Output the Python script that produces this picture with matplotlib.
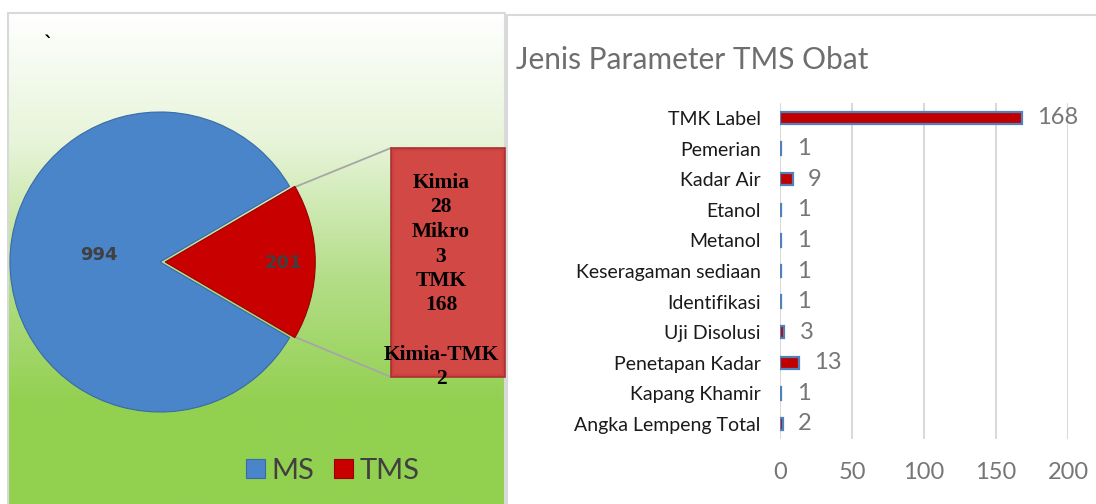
import numpy as np
import matplotlib.pyplot as plt
from matplotlib.patches import Rectangle
from matplotlib.colors import LinearSegmentedColormap

# data
pie_labels = ["MS", "TMS"]
pie_values = [994, 201]
pie_colors = ["#4A84C9", "#C80000"]

tms_groups = ["Kimia", "Mikro", "TMK", "Kimia-TMK"]
tms_counts = [28, 3, 168, 2]

params = ["TMK Label", "Pemerian", "Kadar Air", "Etanol", "Metanol",
          "Keseragaman sediaan", "Identifikasi", "Uji Disolusi",
          "Penetapan Kadar", "Kapang Khamir", "Angka Lempeng Total"]
param_counts = [168, 1, 9, 1, 1, 1, 1, 3, 13, 1, 2]
x_ticks = [0, 50, 100, 150, 200]

W, H = 1096, 504
fig = plt.figure(figsize=(W / 100, H / 100), dpi=100)


def fx(px):
    return px / W


def fy(py):
    return 1 - py / H


# background layer in pixel coordinates
bg = fig.add_axes([0, 0, 1, 1], zorder=0)
bg.set_xlim(0, W)
bg.set_ylim(H, 0)
bg.axis("off")

grad = LinearSegmentedColormap.from_list("g", ["#FFFFFF", "#E6F4D8", "#B5DE8A", "#92D050"])
t = np.clip(np.linspace(0, 1, 400) * 1.25, 0, 1)[:, None]
bg.imshow(t, cmap=grad, aspect="auto", extent=[8, 505, 504, 13], zorder=0)
bg.plot([8, 8, 505, 505], [504, 13, 13, 504], color="#D9D9D9", lw=1.5, zorder=1)
bg.plot([507, 507, 1096], [504, 15, 15], color="#D9D9D9", lw=1.5, zorder=1)
bg.text(48, 44, "`", fontsize=14, fontweight="bold", ha="center", va="center")

# connector lines to the breakdown box
bg.plot([295, 391], [187, 148], color="#A6A6A6", lw=1.3, zorder=2)
bg.plot([295, 391], [337, 377], color="#A6A6A6", lw=1.3, zorder=2)

# breakdown box
bg.add_patch(Rectangle((391, 148), 114, 229, facecolor="#CC4040",
                       edgecolor="#A93030", lw=1.2, zorder=3))
bg.add_patch(Rectangle((394, 151), 108, 223, facecolor="#D24845",
                       edgecolor="none", zorder=3))
lines = []
for i, (g, c) in enumerate(zip(tms_groups, tms_counts)):
    if i == len(tms_groups) - 1:
        lines.append("")
    lines += [g, str(c)]
y0 = 183
for i, s in enumerate(lines):
    bg.text(441, y0 + i * 24.5, s, ha="center", va="center", fontsize=15.5,
            fontweight="bold", family="Liberation Serif", color="black", zorder=4)

# pie
R = 150
cx, cy = 160, 262
pax = fig.add_axes([fx(cx - 160), fy(cy + 160), fx(320), 320 / H], zorder=1)
pax.patch.set_alpha(0)
start = pie_values[1] / sum(pie_values) * 360 / 2
wedges, _ = pax.pie(pie_values, colors=pie_colors, startangle=start,
                    explode=[0, 0.035], radius=1,
                    wedgeprops=dict(edgecolor="#3A6AA8", linewidth=0.8))
wedges[1].set_edgecolor("#9A0000")
pax.set_xlim(-160 / R, 160 / R)
pax.set_ylim(-160 / R, 160 / R)
pax.set_aspect("equal")
pax.text(-0.41, 0.05, str(pie_values[0]), ha="center", va="center",
         fontsize=13, fontweight="bold", family="DejaVu Sans", color="#404040")
pax.text(0.82, -0.005, str(pie_values[1]), ha="center", va="center",
         fontsize=13, fontweight="bold", family="DejaVu Sans", color="#404040")

fig.legend(wedges, pie_labels, loc="center left",
           bbox_to_anchor=(fx(231), fy(471)), frameon=False, ncol=2,
           prop=dict(family="Lato", size=21), handlelength=0.65,
           handleheight=0.65, handletextpad=0.25, columnspacing=0.65,
           borderpad=0, labelcolor="#404040")

# bar chart
top, bottom = 102.7, 439.3
ax = fig.add_axes([fx(780), fy(bottom), fx(288), (bottom - top) / H], zorder=1)
ax.patch.set_alpha(0)
y = np.arange(len(params))
ax.barh(y, param_counts, height=0.4, color="#C00000", edgecolor="#4F81BD",
        linewidth=1.6, zorder=3)
ax.set_xlim(0, 200)
ax.set_ylim(len(params) - 0.5, -0.5)
ax.set_xticks(x_ticks)
ax.set_yticks(y)
ax.set_yticklabels(params, family="Lato", fontsize=14, color="#1A1A1A")
ax.tick_params(axis="y", length=0, pad=14)
ax.tick_params(axis="x", length=0, pad=16, labelsize=17, labelcolor="#767676")
for lab in ax.get_xticklabels():
    lab.set_family("Lato")
ax.grid(axis="x", color="#D9D9D9", lw=1.5, zorder=0)
for s in ax.spines.values():
    s.set_visible(False)
for yi, v in zip(y, param_counts):
    ax.annotate(str(v), (v, yi), xytext=(11, 0), textcoords="offset points",
                ha="left", va="center", fontsize=17, family="Lato", color="#767676")

fig.text(fx(516), fy(60), "Jenis Parameter TMS Obat", ha="left", va="center",
         fontsize=21.5, family="Lato", color="#6E6E6E")

fig.savefig("out.png", dpi=100)
